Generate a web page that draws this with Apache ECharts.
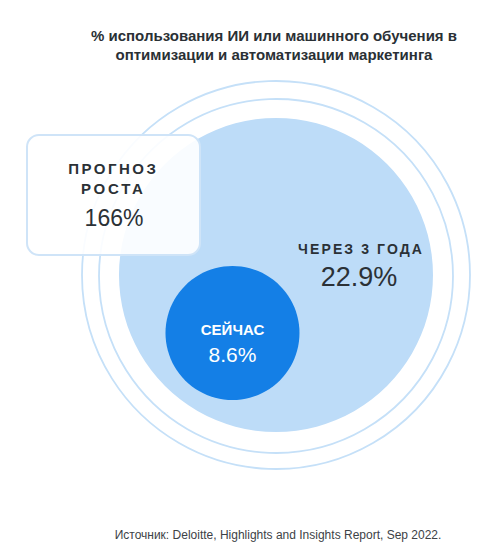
<!DOCTYPE html>
<html><head><meta charset="utf-8">
<script src="https://cdn.jsdelivr.net/npm/echarts@6/dist/echarts.min.js"></script>
<style>html,body{margin:0;padding:0;background:#fff}#c{width:504px;height:547px}</style>
</head><body><div id="c"></div>
<script>
const titleLines = ['% использования ИИ или машинного обучения в', 'оптимизации и автоматизации маркетинга'];
const categories = ['СЕЙЧАС', 'ЧЕРЕЗ 3 ГОДА'];
const values = [8.6, 22.9];
const growthLabel = ['ПРОГНОЗ', 'РОСТА'];
const growthValue = [166];
const sourceText = 'Источник: Deloitte, Highlights and Insights Report, Sep 2022.';

const FONT = '"Liberation Sans", Arial, Helvetica, sans-serif';
const spaced = {};
spaced[growthLabel[0]] = 2.5;
spaced[growthLabel[1]] = 2.7;
spaced[categories[1]] = 2.1;

const chart = echarts.init(document.getElementById('c'), null, { renderer: 'svg' });
chart.setOption({
  backgroundColor: '#fff',
  animation: false,
  title: [
    { text: titleLines.join('\n'), left: 269, top: 20.5, textAlign: 'center',
      textStyle: { fontFamily: FONT, fontSize: 15, fontWeight: 'bold', color: '#2a3035', lineHeight: 19, align: 'center' } },
    { text: sourceText, left: 273, top: 524, textAlign: 'center',
      textStyle: { fontFamily: FONT, fontSize: 12, fontWeight: 'normal', color: '#3d4246' } }
  ],
  series: [
    { type: 'pie', silent: true, radius: [0, 157], center: [276, 275], z: 2,
      label: { show: false }, labelLine: { show: false },
      itemStyle: { color: '#bddcf8' },
      data: [{ name: categories[1], value: values[1] }] },
    { type: 'pie', silent: true, radius: [0, 67], center: [232.5, 333], z: 3,
      label: { show: true, position: 'center', fontFamily: FONT, color: '#fff', padding: [18, 0, 0, 0],
        formatter: p => '{a|' + p.name + '}\n{b|' + p.value + '%}',
        rich: { a: { fontFamily: FONT, fontSize: 15, fontWeight: 'bold', color: '#fff', lineHeight: 24.5 },
                b: { fontFamily: FONT, fontSize: 21, color: '#fff', lineHeight: 24.5 } } },
      labelLine: { show: false },
      itemStyle: { color: '#147fe6' },
      data: [{ name: categories[0], value: values[0] }] }
  ],
  graphic: [
    { type: 'circle', shape: { cx: 276, cy: 275, r: 194 }, style: { fill: 'none', stroke: '#c5e0f8', lineWidth: 1.8 }, z: 1 },
    { type: 'circle', shape: { cx: 276, cy: 276, r: 177 }, style: { fill: 'none', stroke: '#c5e0f8', lineWidth: 1.8 }, z: 1 },
    { type: 'text', x: 360, y: 249, z: 10, style: { text: categories[1], font: 'bold 14px ' + FONT, fill: '#2b3136', align: 'center', verticalAlign: 'middle' } },
    { type: 'text', x: 359, y: 277, z: 10, style: { text: values[1] + '%', font: '27px ' + FONT, fill: '#2b3136', align: 'center', verticalAlign: 'middle' } },
    { type: 'rect', z: 20, shape: { x: 27, y: 135, width: 173, height: 120, r: 12 },
      style: { fill: 'rgba(255,255,255,0.9)', stroke: '#cfe4f8', lineWidth: 2 } },
    { type: 'text', x: 112, y: 168, z: 21, style: { text: growthLabel[0], font: 'bold 15px ' + FONT, fill: '#2b3136', align: 'center', verticalAlign: 'middle' } },
    { type: 'text', x: 112, y: 188, z: 21, style: { text: growthLabel[1], font: 'bold 15px ' + FONT, fill: '#2b3136', align: 'center', verticalAlign: 'middle' } },
    { type: 'text', x: 114, y: 218, z: 21, style: { text: growthValue[0] + '%', font: '23px ' + FONT, fill: '#2b3136', align: 'center', verticalAlign: 'middle' } }
  ]
});

function applySpacing() {
  document.querySelectorAll('#c svg text').forEach(t => {
    const s = spaced[t.textContent];
    if (s) {
      t.setAttribute('letter-spacing', s);
      t.style.letterSpacing = s + 'px';
      t.setAttribute('dx', s / 2);
    }
  });
}
applySpacing();
chart.on('finished', applySpacing);
setTimeout(applySpacing, 50);
</script></body></html>
